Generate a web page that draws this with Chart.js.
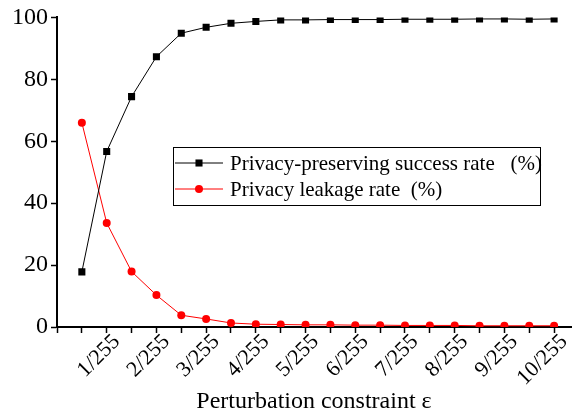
<!DOCTYPE html>
<html>
<head>
<meta charset="utf-8">
<script src="https://cdn.jsdelivr.net/npm/chart.js@4.4.0/dist/chart.umd.min.js"></script>
<style>
  body { margin: 0; background: #fff; }
  #wrap { width: 576px; height: 413px; }
</style>
</head>
<body>
<div id="wrap"><canvas id="grafik" width="576" height="413"></canvas></div>
<script>
// Podaci sa slike
let epsilon = [0.5, 1, 1.5, 2, 2.5, 3, 3.5, 4, 4.5, 5, 5.5, 6, 6.5, 7, 7.5, 8, 8.5, 9, 9.5, 10];
let uspesnost = [17.8, 56.7, 74.4, 87.3, 94.9, 96.8, 98.1, 98.7, 99.2, 99.2, 99.3, 99.3, 99.3, 99.4, 99.4, 99.4, 99.5, 99.5, 99.4, 99.5];
let curenje = [66.0, 33.6, 17.9, 10.3, 3.8, 2.6, 1.3, 0.9, 0.8, 0.7, 0.7, 0.6, 0.6, 0.5, 0.5, 0.5, 0.4, 0.4, 0.4, 0.4];
let xOznake = ["1/255", "2/255", "3/255", "4/255", "5/255", "6/255", "7/255", "8/255", "9/255", "10/255"];
let yOznake = [0, 20, 40, 60, 80, 100];
let nazivi = ["Privacy-preserving success rate   (%)", "Privacy leakage rate  (%)"];

let font = "'Liberation Serif', 'Times New Roman', serif";

function tacke(vrednosti) {
    return epsilon.map(function (e, i) { return { x: e, y: vrednosti[i] }; });
}

// Legenda unutar grafika (linija + marker + tekst)
let legendaPlugin = {
    id: "legenda",
    afterDraw: function (chart) {
        let ctx = chart.ctx;
        let x0 = 173, y0 = 147, w = 367, h = 58;
        ctx.save();
        ctx.fillStyle = "#fff";
        ctx.fillRect(x0, y0, w, h);
        ctx.strokeStyle = "#000";
        ctx.lineWidth = 1;
        ctx.strokeRect(x0 + 0.5, y0 + 0.5, w, h);
        chart.data.datasets.forEach(function (ds, i) {
            let y = y0 + 16 + i * 26;
            ctx.strokeStyle = ds.borderColor;
            ctx.lineWidth = 1;
            ctx.beginPath();
            ctx.moveTo(x0 + 2, y);
            ctx.lineTo(x0 + 50, y);
            ctx.stroke();
            ctx.fillStyle = ds.pointBackgroundColor;
            Chart.helpers.drawPoint(ctx, {
                pointStyle: ds.pointStyle,
                radius: ds.pointRadius,
                borderWidth: 0
            }, x0 + 26, y);
            ctx.fillStyle = "#000";
            ctx.font = "21px " + font;
            ctx.textBaseline = "middle";
            ctx.fillText(ds.label, x0 + 57, y + 1);
        });
        ctx.restore();
    }
};

let ctx = document.getElementById("grafik").getContext("2d");

let grafik = new Chart(ctx, {
    type: "line",
    data: {
        datasets: [{
            label: nazivi[0],
            data: tacke(uspesnost),
            borderColor: "#000",
            backgroundColor: "#000",
            pointBackgroundColor: "#000",
            pointBorderWidth: 0,
            pointStyle: "rect",
            pointRadius: 5,
            borderWidth: 1,
            tension: 0
        }, {
            label: nazivi[1],
            data: tacke(curenje),
            borderColor: "#ff0000",
            backgroundColor: "#ff0000",
            pointBackgroundColor: "#ff0000",
            pointBorderWidth: 0,
            pointStyle: "circle",
            pointRadius: 4,
            borderWidth: 1,
            tension: 0
        }]
    },
    options: {
        responsive: false,
        animation: false,
        layout: { padding: { left: 9, top: 13, right: 0, bottom: 0 } },
        plugins: {
            legend: { display: false },
            tooltip: { enabled: false }
        },
        scales: {
            x: {
                type: "linear",
                min: 0,
                max: 10.34,
                afterBuildTicks: function (scale) {
                    scale.ticks = scale.ticks.filter(function (t) {
                        return Math.abs(t.value * 2 - Math.round(t.value * 2)) < 1e-6;
                    });
                },
                // osa do desne ivice, fiksna visina ose
                afterFit: function (scale) {
                    scale.paddingRight = 0;
                    scale.height = 86;
                },
                ticks: {
                    stepSize: 0.5,
                    includeBounds: false,
                    autoSkip: false,
                    maxRotation: 45,
                    minRotation: 45,
                    padding: -4,
                    labelOffset: 10,
                    color: "#000",
                    font: { family: font, size: 22 },
                    callback: function (v) {
                        let n = Math.round(v);
                        if (Math.abs(v - n) < 1e-6 && n >= 1) return xOznake[n - 1];
                        return "";
                    }
                },
                grid: {
                    drawOnChartArea: false,
                    drawTicks: true,
                    tickLength: 6,
                    tickColor: "#000",
                    tickWidth: 1.5
                },
                border: { color: "#000", width: 2 },
                title: {
                    display: true,
                    text: "Perturbation constraint ε",
                    color: "#000",
                    font: { family: font, size: 24 },
                    padding: { top: 0, bottom: -3 }
                }
            },
            y: {
                min: 0,
                max: 100,
                ticks: {
                    stepSize: 10,
                    padding: 3,
                    color: "#000",
                    font: { family: font, size: 24 },
                    callback: function (v) {
                        return yOznake.indexOf(v) >= 0 ? String(v) : "";
                    }
                },
                grid: {
                    drawOnChartArea: false,
                    drawTicks: true,
                    tickLength: 6,
                    tickColor: "#000",
                    tickWidth: 1.5
                },
                border: { color: "#000", width: 2 }
            }
        }
    },
    plugins: [legendaPlugin]
});
</script>
</body>
</html>
